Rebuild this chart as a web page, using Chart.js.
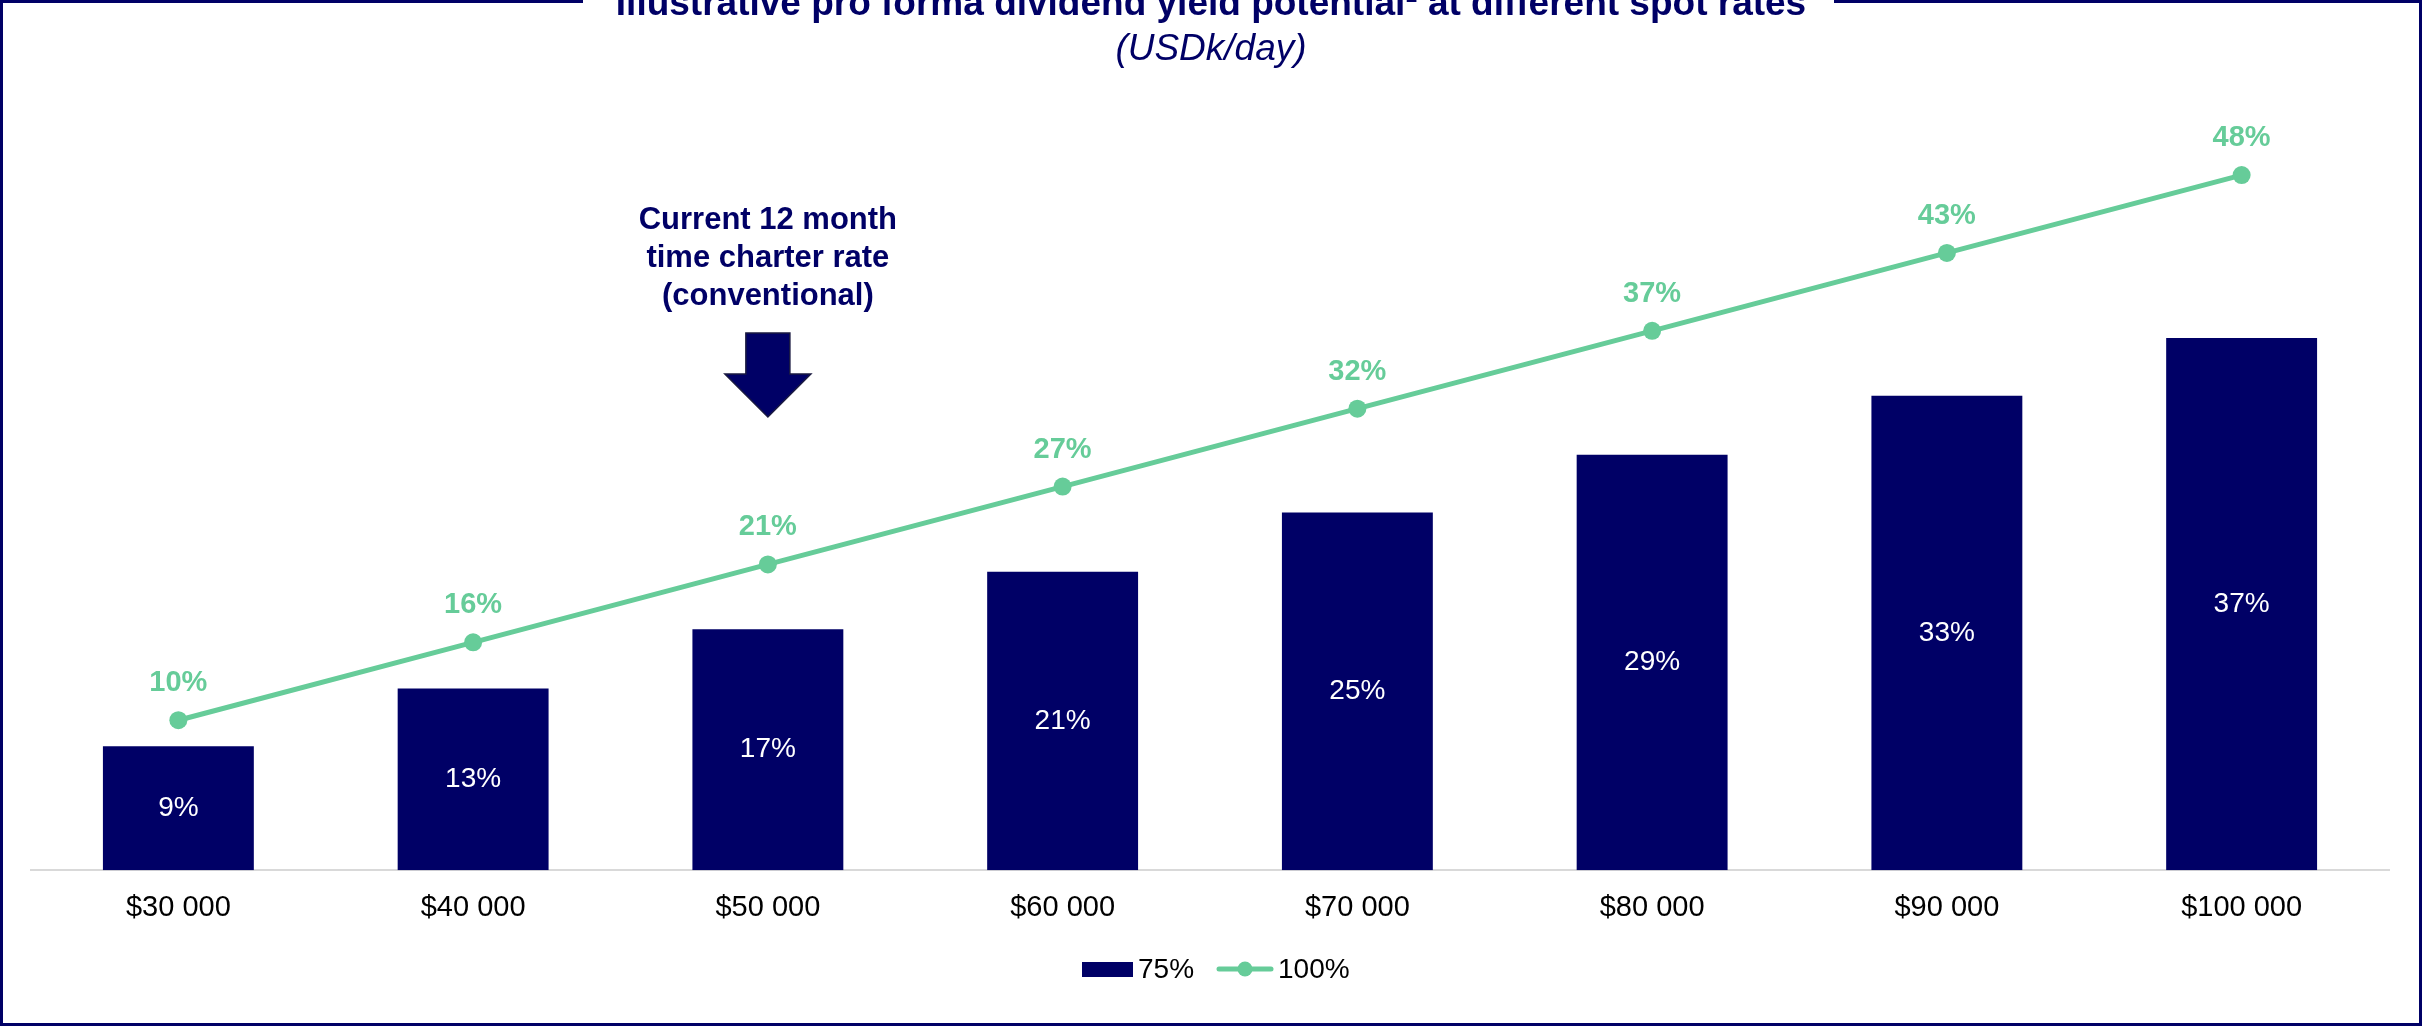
<!DOCTYPE html>
<html>
<head>
<meta charset="utf-8">
<script src="https://cdn.jsdelivr.net/npm/chart.js@4.4.1/dist/chart.umd.min.js"></script>
<style>
  html, body { margin: 0; padding: 0; background: #ffffff; }
  #wrap { width: 2422px; height: 1026px; position: relative; }
</style>
</head>
<body>
<div id="wrap"><canvas id="yieldChart" width="2422" height="1026"></canvas></div>
<script>
// spot rate categories (USD/day)
const categories = ['$30 000', '$40 000', '$50 000', '$60 000', '$70 000', '$80 000', '$90 000', '$100 000'];
// dividend yield at 75% payout (%)
const payout75 = [8.6, 12.6, 16.7, 20.7, 24.8, 28.8, 32.9, 36.9];
// dividend yield at 100% payout (%)
const payout100 = [10.4, 15.8, 21.2, 26.6, 32.0, 37.4, 42.8, 48.2];
const seriesNames = ['75%', '100%'];

const NAVY = '#000066';
const GREEN = '#66cc99';
const FONT = '"Liberation Sans", Arial, Helvetica, sans-serif';

const TITLE = 'Illustrative pro forma dividend yield potential\u00b9 at different spot rates';
const SUBTITLE = '(USDk/day)';
const NOTE_LINES = ['Current 12 month', 'time charter rate', '(conventional)'];
const NOTE_INDEX = 2;

const pct = v => Math.round(v) + '%';

// frame, title, arrow note, value labels and legend
const decorPlugin = {
  id: 'decor',
  afterDraw(chart) {
    const { ctx: c, scales, width, height } = chart;

    c.save();
    // frame with gap for the title
    c.fillStyle = NAVY;
    c.fillRect(0, 0, 3, height);
    c.fillRect(width - 3, 0, 3, height);
    c.fillRect(0, height - 3, width, 3);
    c.fillRect(0, 0, 583, 3);
    c.fillRect(1834, 0, width - 1834, 3);

    c.textAlign = 'center';
    c.textBaseline = 'alphabetic';
    c.font = 'bold 37px ' + FONT;
    c.fillText(TITLE, width / 2, 15);
    c.font = 'italic 37px ' + FONT;
    c.fillText(SUBTITLE, width / 2, 60);

    // annotation above the current rate
    const nx = scales.x.getPixelForValue(NOTE_INDEX);
    c.font = 'bold 31px ' + FONT;
    NOTE_LINES.forEach((t, i) => c.fillText(t, nx, 229 + i * 38));

    c.beginPath();
    c.moveTo(nx - 22, 333);
    c.lineTo(nx + 22, 333);
    c.lineTo(nx + 22, 374);
    c.lineTo(nx + 43, 374);
    c.lineTo(nx, 417);
    c.lineTo(nx - 43, 374);
    c.lineTo(nx - 22, 374);
    c.closePath();
    c.fillStyle = NAVY;
    c.fill();
    c.strokeStyle = '#1a1a40';
    c.lineWidth = 1.5;
    c.stroke();

    // bar labels (centered inside)
    const barMeta = chart.getDatasetMeta(1);
    c.font = '28px ' + FONT;
    c.fillStyle = '#ffffff';
    c.textBaseline = 'middle';
    barMeta.data.forEach((bar, i) => {
      c.fillText(pct(payout75[i]), bar.x, (bar.y + bar.base) / 2);
    });

    // line labels (above points)
    const lineMeta = chart.getDatasetMeta(0);
    c.font = 'bold 29px ' + FONT;
    c.fillStyle = GREEN;
    lineMeta.data.forEach((pt, i) => {
      c.fillText(pct(payout100[i]), pt.x, pt.y - 37);
    });

    // legend
    const ly = 969;
    c.fillStyle = NAVY;
    c.fillRect(1082, ly - 7, 51, 15);
    c.font = '28px ' + FONT;
    c.fillStyle = '#000000';
    c.textAlign = 'left';
    c.fillText(seriesNames[0], 1138, ly + 1);
    c.strokeStyle = GREEN;
    c.lineWidth = 5;
    c.lineCap = 'round';
    c.beginPath();
    c.moveTo(1219, ly);
    c.lineTo(1271, ly);
    c.stroke();
    c.fillStyle = GREEN;
    c.beginPath();
    c.arc(1245, ly, 7.5, 0, Math.PI * 2);
    c.fill();
    c.fillStyle = '#000000';
    c.fillText(seriesNames[1], 1278, ly + 1);
    c.restore();
  }
};

const ctx = document.getElementById('yieldChart').getContext('2d');
new Chart(ctx, {
  data: {
    labels: categories,
    datasets: [
      {
        type: 'line',
        label: seriesNames[1],
        data: payout100,
        borderColor: GREEN,
        backgroundColor: GREEN,
        pointBackgroundColor: GREEN,
        pointBorderColor: GREEN,
        pointRadius: 9,
        pointBorderWidth: 0,
        borderWidth: 5,
        tension: 0,
        fill: false,
        order: 0,
      },
      {
        type: 'bar',
        label: seriesNames[0],
        data: payout75,
        backgroundColor: NAVY,
        categoryPercentage: 1,
        barPercentage: 0.512,
        order: 1,
      },
    ],
  },
  plugins: [decorPlugin],
  options: {
    responsive: false,
    animation: false,
    layout: { padding: { top: 77, left: 31, right: 33, bottom: 81 } },
    plugins: {
      legend: { display: false },
      title: { display: false },
      tooltip: { enabled: false },
    },
    scales: {
      x: {
        grid: { display: false, drawTicks: false },
        border: { display: true, color: '#d9d9d9', width: 2 },
        ticks: { color: '#000000', padding: 20, font: { family: FONT, size: 29 } },
      },
      y: {
        display: false,
        min: 0,
        max: 55,
      },
    },
  },
});
</script>
</body>
</html>
